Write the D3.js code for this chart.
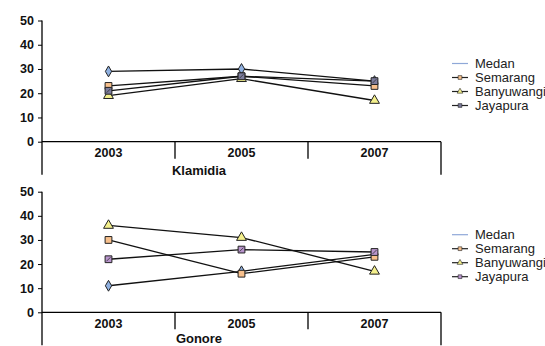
<!DOCTYPE html>
<html>
<head>
<meta charset="utf-8">
<script src="https://cdn.jsdelivr.net/npm/d3@7"></script>
<style>
  body { margin: 0; background: #fff; }
  svg { font-family: "Liberation Sans", Arial, sans-serif; }
</style>
</head>
<body>
<div id="chart"></div>
<script>
// data
const years = ["2003", "2005", "2007"];
const cities = ["Medan", "Semarang", "Banyuwangi", "Jayapura"];
const yTicks = [0, 10, 20, 30, 40, 50];

const klamidia = {
    Medan:      [29, 30, 25],
    Semarang:   [23, 27, 23],
    Banyuwangi: [19, 26, 17],
    Jayapura:   [21, 27, 25]
};
const gonore = {
    Medan:      [11, 17, 24],
    Semarang:   [30, 16, 23],
    Banyuwangi: [36, 31, 17],
    Jayapura:   [22, 26, 25]
};

const symbols = {
    Medan: d3.symbolDiamond,
    Semarang: d3.symbolSquare,
    Banyuwangi: d3.symbolTriangle,
    Jayapura: d3.symbolSquare
};

const W = 545, H = 346;
const svg = d3.select("#chart").append("svg")
    .attr("width", W)
    .attr("height", H);

function drawPanel(title, data, top, bottom, fills) {
    let g = svg.append("g");

    let x = d3.scaleBand().domain(years).range([42, 441]);
    let y = d3.scaleLinear().domain([0, 50]).range([bottom, top]);
    let y0 = y(0);

    // y axis
    let yAxis = d3.axisLeft(y).tickValues(yTicks).tickSize(4).tickPadding(4);
    let ya = g.append("g").attr("transform", "translate(42,0)").call(yAxis);
    ya.select(".domain").remove();
    ya.selectAll("line").attr("stroke", "#000");
    ya.selectAll("text")
        .attr("font-size", 12.5).attr("font-weight", "bold").attr("fill", "#111")
        .attr("font-family", "Liberation Sans, Arial, sans-serif");

    // frame lines
    g.append("line").attr("x1", 42).attr("x2", 42).attr("y1", y(50)).attr("y2", y0 + 33)
        .attr("stroke", "#000").attr("stroke-width", 1.3);
    g.append("line").attr("x1", 42).attr("x2", 441).attr("y1", y0).attr("y2", y0)
        .attr("stroke", "#000").attr("stroke-width", 1.3);
    g.append("line").attr("x1", 441).attr("x2", 441).attr("y1", y0).attr("y2", y0 + 33)
        .attr("stroke", "#000").attr("stroke-width", 1.3);
    years.slice(1).forEach(yr => {
        g.append("line").attr("x1", x(yr)).attr("x2", x(yr)).attr("y1", y0).attr("y2", y0 + 17)
            .attr("stroke", "#000").attr("stroke-width", 1.3);
    });

    // category labels
    g.selectAll(".yr").data(years).enter().append("text")
        .attr("x", d => x(d) + x.bandwidth() / 2)
        .attr("y", y0 + 15.5)
        .attr("text-anchor", "middle")
        .attr("font-size", 12.5).attr("font-weight", "bold").attr("fill", "#111")
        .text(d => d);

    g.append("text")
        .attr("x", 199).attr("y", Math.min(y0 + 33.5, H - 3))
        .attr("text-anchor", "middle")
        .attr("font-size", 13).attr("font-weight", "bold").attr("fill", "#111")
        .text(title);

    // lines
    let line = d3.line()
        .x((d, i) => x(years[i]) + x.bandwidth() / 2)
        .y(d => y(d));
    cities.forEach(c => {
        g.append("path").datum(data[c])
            .attr("d", line)
            .attr("fill", "none")
            .attr("stroke", "#111")
            .attr("stroke-width", 1.3);
    });

    // markers
    cities.forEach(c => {
        let sz = c == "Banyuwangi" ? 42 : (c == "Medan" ? 34 : 46);
        let sym = d3.symbol().type(symbols[c]).size(sz);
        data[c].forEach((v, i) => {
            let cx = x(years[i]) + x.bandwidth() / 2, cy = y(v);
            g.append("path")
                .attr("d", sym())
                .attr("transform", `translate(${cx},${cy})`)
                .attr("fill", fills[c])
                .attr("stroke", "#222")
                .attr("stroke-width", 1);
            if (c == "Jayapura") {
                g.append("line")
                    .attr("x1", cx - 2).attr("y1", cy + 2)
                    .attr("x2", cx + 2).attr("y2", cy - 2)
                    .attr("stroke", "#333").attr("stroke-width", 0.8);
            }
        });
    });

    // legend
    let ly = top + 43;
    cities.forEach((c, i) => {
        let yy = ly + i * 14;
        let lg = g.append("g");
        lg.append("line").attr("x1", 452).attr("x2", 468).attr("y1", yy).attr("y2", yy)
            .attr("stroke", c == "Medan" ? "#8fa8d8" : "#222").attr("stroke-width", 1.2);
        if (c != "Medan") {
            lg.append("path")
                .attr("d", d3.symbol().type(symbols[c]).size(14)())
                .attr("transform", `translate(460,${yy})`)
                .attr("fill", fills[c]).attr("stroke", "#222").attr("stroke-width", 0.6);
        }
        lg.append("text").attr("x", 475).attr("y", yy + 4.5)
            .attr("font-size", 13).attr("fill", "#222")
            .text(c);
    });
}

drawPanel("Klamidia", klamidia, 20.5, 141.7, {
    Medan: "#8fb0e0", Semarang: "#f8c08c", Banyuwangi: "#f4f08c", Jayapura: "#7c7c9c"
});
drawPanel("Gonore", gonore, 191.7, 312.3, {
    Medan: "#8fb0e0", Semarang: "#f8c08c", Banyuwangi: "#f4f08c", Jayapura: "#b894cc"
});
</script>
</body>
</html>
